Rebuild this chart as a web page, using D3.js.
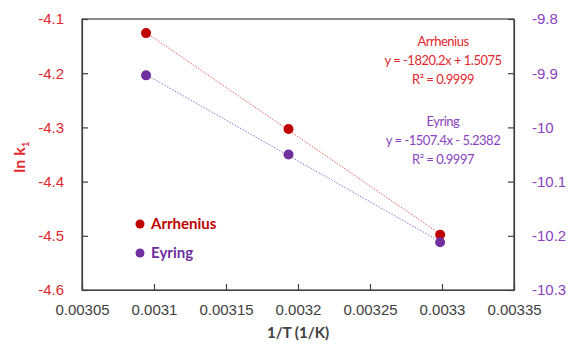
<!DOCTYPE html>
<html>
<head>
<meta charset="utf-8">
<style>
  body { margin: 0; background: #fff; }
  svg { font-family: Lato, "Open Sans", sans-serif; }
</style>
<script src="https://cdn.jsdelivr.net/npm/d3@7"></script>
</head>
<body>
<div id="chart"></div>
<script>
// 1/T values (1/K) and the two series
var invT = [0.0030945, 0.0031934, 0.0032987];
var arrhenius = [-4.126, -4.303, -4.498];   // ln k1, left axis
var eyring = [-9.904, -10.050, -10.212];    // right axis
var xTicks = [0.00305, 0.0031, 0.00315, 0.0032, 0.00325, 0.0033, 0.00335];
var yLeftTicks = [-4.1, -4.2, -4.3, -4.4, -4.5, -4.6];
var yRightTicks = [-9.8, -9.9, -10, -10.1, -10.2, -10.3];
var arrFit = { m: -1820.2, b: 1.5075, label: ["Arrhenius", "y = -1820.2x + 1.5075", "R² = 0.9999"] };
var eyrFit = { m: -1507.4, b: -5.2382, label: ["Eyring", "y = -1507.4x - 5.2382", "R² = 0.9997"] };

var W = 571, H = 352;
var margin = {top: 19, right: 57, bottom: 62, left: 82};
var width = W - margin.left - margin.right,
    height = H - margin.top - margin.bottom;

var red = "#C00000", redText = "#E0282E", purple = "#7030A0", purpleText = "#8A44C0";

var svg = d3.select("#chart").append("svg")
    .attr("width", W).attr("height", H);
var g = svg.append("g")
    .attr("transform", "translate(" + margin.left + "," + margin.top + ")");

var x = d3.scaleLinear().domain([0.00305, 0.00335]).range([0, width]);
var yL = d3.scaleLinear().domain([-4.6, -4.1]).range([height, 0]);
var yR = d3.scaleLinear().domain([-10.3, -9.8]).range([height, 0]);

// plain hyphen minus like the original
function plain(d) { return String(+d.toFixed(5)); }

// frame
g.append("rect").attr("width", width).attr("height", height)
    .attr("fill", "none").attr("stroke", "#404040").attr("stroke-width", 1.2);

// axes (ticks pointing inward)
var xAxis = g.append("g").attr("transform", "translate(0," + height + ")")
    .call(d3.axisBottom(x).tickValues(xTicks).tickSizeInner(-6).tickSizeOuter(0)
        .tickPadding(14).tickFormat(plain));
var yAxisL = g.append("g")
    .call(d3.axisLeft(yL).tickValues(yLeftTicks).tickSizeInner(-6).tickSizeOuter(0)
        .tickPadding(18).tickFormat(plain));
var yAxisR = g.append("g").attr("transform", "translate(" + width + ",0)")
    .call(d3.axisRight(yR).tickValues(yRightTicks).tickSizeInner(-6).tickSizeOuter(0)
        .tickPadding(18).tickFormat(plain));

[xAxis, yAxisL, yAxisR].forEach(function(a) {
  a.select(".domain").attr("stroke", "#404040").attr("stroke-width", 1.2);
  a.selectAll(".tick line").attr("stroke", "#404040").attr("stroke-width", 1.2);
  a.selectAll("text").style("font-size", "15px");
});
xAxis.selectAll("text").attr("fill", "#404040");
yAxisL.selectAll("text").attr("fill", redText);
yAxisR.selectAll("text").attr("fill", purpleText);

// trendlines over the data range
function fitLine(fit) {
  var x0 = d3.min(invT), x1 = d3.max(invT);
  return [[x0, fit.m * x0 + fit.b], [x1, fit.m * x1 + fit.b]];
}
g.append("path").datum(fitLine(arrFit))
    .attr("d", d3.line().x(function(d) { return x(d[0]); }).y(function(d) { return yL(d[1]); }))
    .attr("stroke", "#E86060").attr("stroke-width", 1).attr("stroke-dasharray", "1.5,1.5").attr("fill", "none");
g.append("path").datum(fitLine(eyrFit))
    .attr("d", d3.line().x(function(d) { return x(d[0]); }).y(function(d) { return yR(d[1]); }))
    .attr("stroke", "#9A70D0").attr("stroke-width", 1).attr("stroke-dasharray", "1.5,1.5").attr("fill", "none");

// points
g.selectAll(".arr").data(invT).enter().append("circle")
    .attr("cx", function(d) { return x(d); })
    .attr("cy", function(d, i) { return yL(arrhenius[i]); })
    .attr("r", 5).attr("fill", red);
g.selectAll(".eyr").data(invT).enter().append("circle")
    .attr("cx", function(d) { return x(d); })
    .attr("cy", function(d, i) { return yR(eyring[i]); })
    .attr("r", 5).attr("fill", purple);

// equation labels
function eqLabel(fit, cx, y0, col) {
  var t = svg.append("text").attr("text-anchor", "middle").attr("fill", col)
      .style("font-size", "13px").style("letter-spacing", "-0.5px");
  fit.label.forEach(function(s, i) {
    t.append("tspan").attr("x", cx).attr("y", y0 + i * 19).text(s);
  });
}
eqLabel(arrFit, 443, 46, redText);
eqLabel(eyrFit, 443, 126, purpleText);

// legend
var legend = [["Arrhenius", red], ["Eyring", purple]];
legend.forEach(function(l, i) {
  var ly = 224 + i * 29;
  svg.append("circle").attr("cx", 140).attr("cy", ly).attr("r", 4.5).attr("fill", l[1]);
  svg.append("text").attr("x", 151).attr("y", ly + 5).attr("fill", l[1])
      .style("font-size", "15px").style("font-weight", "bold").text(l[0]);
});

// axis titles
svg.append("text").attr("x", margin.left + width / 2).attr("y", 338)
    .attr("text-anchor", "middle").attr("fill", "#404040")
    .style("font-size", "15px").style("font-weight", "bold").text("1/T (1/K)");
var yt = svg.append("text").attr("transform", "translate(25,157) rotate(-90)")
    .attr("text-anchor", "middle").attr("fill", redText)
    .style("font-size", "16px").style("font-weight", "bold");
yt.append("tspan").text("ln k");
yt.append("tspan").attr("dy", 4).style("font-size", "10px").text("1");
</script>
</body>
</html>
